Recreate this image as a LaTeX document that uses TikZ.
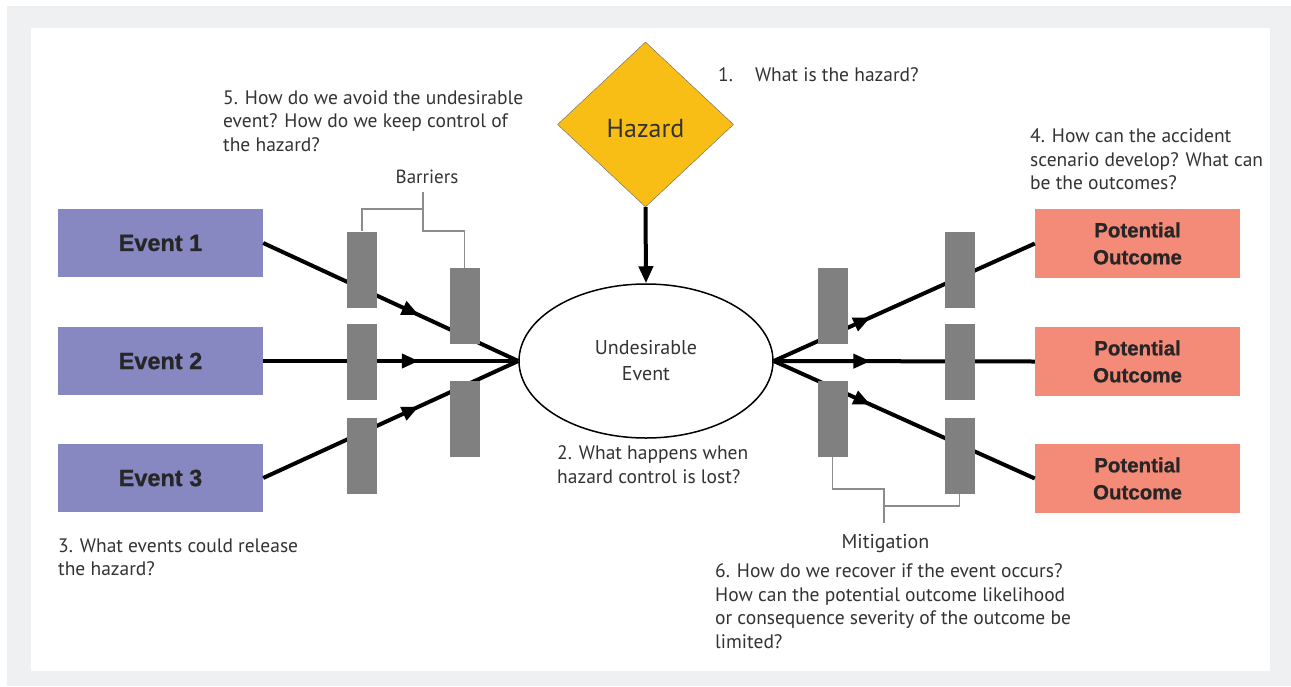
\documentclass[tikz,border=0pt]{standalone}
\usepackage{fontspec}
\setmainfont{PT Sans}
\newfontfamily\boxfont{Liberation Sans}[BoldFeatures={FakeBold=0.8}]
\usetikzlibrary{arrows.meta,shapes.geometric,decorations.markings}
\definecolor{framegray}{HTML}{EFF0F2}
\definecolor{eventblue}{HTML}{8787C1}
\definecolor{outcomered}{HTML}{F48A78}
\definecolor{hazardyellow}{HTML}{F9BE15}
\definecolor{barriergray}{HTML}{808080}
\definecolor{bracketgray}{HTML}{8C8C8C}
\definecolor{txtgray}{HTML}{333333}
\tikzset{
  question/.style={anchor=north west,align=left,inner sep=0pt,text=txtgray,
    font=\fontsize{19.5}{23.5}\selectfont},
  label/.style={anchor=base,inner sep=0pt,text=txtgray},
  barrier/.style={rectangle,fill=barriergray,minimum width=30pt,minimum height=76pt,inner sep=0pt},
  bracket/.style={draw=bracketgray,line width=1.5pt},
  flowin/.style={postaction={decorate},decoration={markings,
    mark=at position 0.61 with {\arrow{Triangle[length=17pt,width=14pt]}}}},
  flowout/.style={postaction={decorate},decoration={markings,
    mark=at position 0.37 with {\arrow{Triangle[length=17pt,width=14pt]}}}}
}
\begin{document}
\begin{tikzpicture}[x=1pt,y=-1pt]
\fill[framegray] (7,6) rectangle (1291,686);
\fill[white] (31,28) rectangle (1270,671);
\useasboundingbox (0,0) rectangle (1291,686);

\node[diamond,fill=hazardyellow,draw=black!60,thin,minimum width=176pt,minimum height=165pt,
      inner sep=0pt,text=txtgray,font=\fontsize{26}{30}\selectfont] (hz) at (645.5,124.5)
      {\smash{\raisebox{-13pt}{Hazard}}};
\node[ellipse,draw=black,line width=1.5pt,minimum width=254pt,minimum height=154pt,align=center,
      inner sep=0pt,text=txtgray,font=\fontsize{20}{26}\selectfont] (ue) at (646,361) {Undesirable\\Event};

\begin{scope}[every node/.style={rectangle,minimum width=205pt,minimum height=68pt,inner sep=0pt,
              text=black!85,font=\boxfont\bfseries\fontsize{23.5}{27}\selectfont}]
    \node[fill=eventblue] (e1) at (160.5,243) {Event 1};
    \node[fill=eventblue] (e2) at (160.5,361) {Event 2};
    \node[fill=eventblue] (e3) at (160.5,478) {Event 3};
\end{scope}
\begin{scope}[every node/.style={rectangle,minimum width=205pt,minimum height=69pt,inner sep=0pt,
              align=center,text=black!85,font=\boxfont\bfseries\fontsize{20.5}{27}\selectfont}]
    \node[fill=outcomered] (o1) at (1137.5,243.5) {Potential\\Outcome};
    \node[fill=outcomered] (o2) at (1137.5,361.5) {Potential\\Outcome};
    \node[fill=outcomered] (o3) at (1137.5,478.5) {Potential\\Outcome};
\end{scope}

\begin{scope}[every edge/.style={draw=black,line width=4pt}]
    \path (hz.south) edge[-{Triangle[length=17pt,width=14pt]}] (ue.north);
    \path (e1.east) edge[flowin] (ue.west);
    \path (e2.east) edge[flowin] (ue.west);
    \path (e3.east) edge[flowin] (ue.west);
    \path (ue.east) edge[flowout] (o1.west);
    \path (ue.east) edge[flowout] (o2.west);
    \path (ue.east) edge[flowout] (o3.west);
\end{scope}

\node[barrier] (b1) at (362,269.5) {};
\node[barrier] (b2) at (362,362) {};
\node[barrier] (b3) at (362,455.5) {};
\node[barrier] (b4) at (464.5,306) {};
\node[barrier] (b5) at (464.5,419) {};
\node[barrier] (m1) at (832.5,306) {};
\node[barrier] (m2) at (832.5,419) {};
\node[barrier] (m3) at (959.5,269.5) {};
\node[barrier] (m4) at (959.5,362) {};
\node[barrier] (m5) at (959.5,455.5) {};

\node[label,font=\fontsize{19}{23}\selectfont] (bar) at (427,183) {Barriers};
\coordinate (bk) at (423,192);
\draw[bracket] (b1.north) -- (b1.north |- 0,209) -| (bk);
\draw[bracket] (b4.north) |- (423,231) -- (bk);

\node[label,font=\fontsize{20}{24}\selectfont] (mit) at (885.5,548) {Mitigation};
\coordinate (mk) at (884,523);
\draw[bracket] (m2.south) |- (884,489) -- (mk);
\draw[bracket] (m5.south) |- (884,506);

\node[anchor=base west,inner sep=0pt,text=txtgray,font=\fontsize{19.5}{23.5}\selectfont] (q1) at (718,81)
    {1.\hskip 22pt What is the hazard?};
\node[question] (q5) at (223,90) {5. How do we avoid the undesirable\\event? How do we keep control of\\the hazard?};
\node[question] (q4) at (1030,128.5) {4. How can the accident\\scenario develop? What can\\be the outcomes?};
\node[question] (q2) at (557,445.5) {2. What happens when\\hazard control is lost?};
\node[question] (q3) at (58,538.5) {3. What events could release\\the hazard?};
\node[question] (q6) at (715,563.5) {6. How do we recover if the event occurs?\\How can the potential outcome likelihood\\or consequence severity of the outcome be\\limited?};
\end{tikzpicture}
\end{document}
